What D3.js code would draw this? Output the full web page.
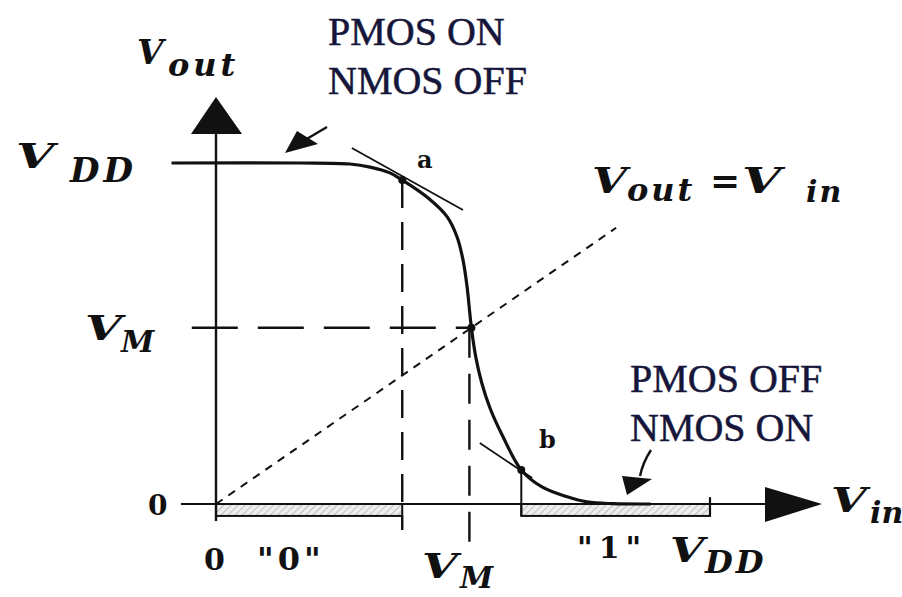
<!DOCTYPE html>
<html>
<head>
<meta charset="utf-8">
<script src="https://cdn.jsdelivr.net/npm/d3@7"></script>
<style>
  html, body { margin: 0; padding: 0; background: #fff; }
  svg { display: block; }
  .math { font-family: "DejaVu Serif", serif; font-style: italic; font-weight: bold; fill: #111; }
  .num { font-family: "DejaVu Serif", serif; font-weight: bold; fill: #111; }
  .note { font-family: "Liberation Serif", serif; fill: #16163a; stroke: #16163a; stroke-width: 0.5; }
</style>
</head>
<body>
<script>
// CMOS inverter voltage transfer characteristic (Vin and Vout normalised to VDD)
const vinCurve  = [-0.09, 0.17, 0.271, 0.312, 0.352, 0.377, 0.427, 0.468, 0.488, 0.500, 0.508, 0.517, 0.526, 0.538, 0.555, 0.580, 0.618, 0.660, 0.711, 0.751, 0.804, 0.88];
const voutCurve = [1.0,   1.0,  0.997, 0.988, 0.971, 0.950, 0.900, 0.842, 0.783, 0.716, 0.640, 0.517, 0.430, 0.355, 0.280, 0.200, 0.100, 0.050, 0.021, 0.006, 0.001, 0.0];

// Switching threshold VM and the unity-gain points a and b
const VM = 0.517;
const pointNames = ["a", "VM", "b"];
const pointVin   = [0.377, VM, 0.618];
const pointVout  = [0.950, VM, 0.100];

// Tangent segments through a and b: [vin0, vout0, vin1, vout1]
const tangentA = [0.275, 1.044, 0.500, 0.862];
const tangentB = [0.534, 0.179, 0.640, 0.076];

// Logic level ranges on the Vin axis
const lowRange  = [0, 0.377];
const highRange = [0.618, 1];

// Vout = Vin reference line
const unityRange = [0, 0.81];

const W = 902, H = 597;
const svg = d3.select("body").append("svg").attr("width", W).attr("height", H);

const x = d3.scaleLinear().domain([0, 1]).range([216, 710]);
const y = d3.scaleLinear().domain([0, 1]).range([504, 163]);

const ink = "#111";

// hatch pattern for the logic level bars
const defs = svg.append("defs");
const pat = defs.append("pattern").attr("id", "hatch").attr("patternUnits", "userSpaceOnUse")
  .attr("width", 5).attr("height", 5).attr("patternTransform", "rotate(45)");
pat.append("rect").attr("width", 5).attr("height", 5).attr("fill", "#eeeeee");
pat.append("line").attr("x1", 0).attr("y1", 0).attr("x2", 0).attr("y2", 5)
  .attr("stroke", "#b5b5b5").attr("stroke-width", 1.6);

const g = svg.append("g");

// logic "0" and "1" input ranges
[lowRange, highRange].forEach(r => {
  g.append("rect")
    .attr("x", x(r[0])).attr("y", y(0))
    .attr("width", x(r[1]) - x(r[0])).attr("height", y(-0.035) - y(0))
    .attr("fill", "url(#hatch)").attr("stroke", ink).attr("stroke-width", 2);
});
// tick at VDD on the Vin axis
g.append("line").attr("x1", x(1)).attr("x2", x(1)).attr("y1", y(0.02)).attr("y2", y(-0.035))
  .attr("stroke", ink).attr("stroke-width", 2.2);

// axes
g.append("line").attr("x1", x(-0.071)).attr("x2", 766).attr("y1", y(0)).attr("y2", y(0))
  .attr("stroke", ink).attr("stroke-width", 2.2);
g.append("line").attr("x1", x(0)).attr("x2", x(0)).attr("y1", y(-0.05)).attr("y2", 134)
  .attr("stroke", ink).attr("stroke-width", 2.4);
// axis arrow heads
g.append("path").attr("d", `M${x(0)},97 L${x(0) + 26},134 L${x(0) - 25},134 Z`).attr("fill", ink);
g.append("path").attr("d", `M822,${y(0)} L765,${y(0) - 17} L765,${y(0) + 18} Z`).attr("fill", ink);

// Vout = Vin dotted line
g.append("line")
  .attr("x1", x(unityRange[0])).attr("y1", y(unityRange[0]))
  .attr("x2", x(unityRange[1])).attr("y2", y(unityRange[1]))
  .attr("stroke", ink).attr("stroke-width", 2).attr("stroke-dasharray", "8,7");

// dashed guides to a and VM
g.append("line").attr("x1", x(pointVin[0])).attr("x2", x(pointVin[0]))
  .attr("y1", y(pointVout[0])).attr("y2", y(-0.076))
  .attr("stroke", ink).attr("stroke-width", 2.4).attr("stroke-dasharray", "28,14");
g.append("line").attr("x1", x(VM) - 2).attr("x2", x(VM) - 2)
  .attr("y1", y(VM)).attr("y2", y(-0.13))
  .attr("stroke", ink).attr("stroke-width", 2.4).attr("stroke-dasharray", "30,16");
g.append("line").attr("x1", x(-0.049)).attr("x2", x(VM))
  .attr("y1", y(VM)).attr("y2", y(VM))
  .attr("stroke", ink).attr("stroke-width", 2.4).attr("stroke-dasharray", "46,20");

// solid guide from b to the "1" range
g.append("line").attr("x1", x(pointVin[2])).attr("x2", x(pointVin[2]))
  .attr("y1", y(pointVout[2])).attr("y2", y(-0.035))
  .attr("stroke", ink).attr("stroke-width", 2);

// tangents
[tangentA, tangentB].forEach(t => {
  g.append("line").attr("x1", x(t[0])).attr("y1", y(t[1])).attr("x2", x(t[2])).attr("y2", y(t[3]))
    .attr("stroke", ink).attr("stroke-width", 1.8);
});

// transfer curve
const curveData = vinCurve.map((v, i) => [v, voutCurve[i]]);
g.append("path").datum(curveData)
  .attr("d", d3.line().x(d => x(d[0])).y(d => y(d[1])).curve(d3.curveCatmullRom.alpha(0.5)))
  .attr("fill", "none").attr("stroke", ink).attr("stroke-width", 3.2);

// marked points
g.selectAll("circle.pt").data(pointNames).join("circle").attr("class", "pt")
  .attr("cx", (d, i) => x(pointVin[i])).attr("cy", (d, i) => y(pointVout[i]))
  .attr("r", 4).attr("fill", ink);

// point labels
g.append("text").attr("class", "num").attr("x", 417).attr("y", 168).attr("font-size", 24).text("a");
g.append("text").attr("class", "num").attr("x", 539).attr("y", 448).attr("font-size", 24).text("b");

// math labels: each part placed on its own, optionally widened
function part(xp, yp, size, s, opts = {}) {
  const t = g.append("text").attr("class", "math")
    .attr("transform", `translate(${xp},${yp}) scale(${opts.sx || 1},1)`)
    .attr("font-size", size).attr("letter-spacing", opts.ls || 0).text(s);
  if (opts.upright) t.attr("font-style", "normal");
  return t;
}
// Vout (axis title)
part(137, 64, 34, "V"); part(168, 76, 32, "out", { ls: 4 });
// VDD on the Vout axis
part(16, 168, 34, "V", { sx: 1.45 }); part(70, 182, 34, "DD", { ls: 4 });
// VM on the Vout axis
part(85, 340, 34, "V", { sx: 1.4 }); part(121, 352, 30, "M");
// Vin (axis title)
part(831, 512, 34, "V", { sx: 1.35 }); part(870, 523, 30, "in");
// VM on the Vin axis
part(422, 578, 34, "V", { sx: 1.35 }); part(460, 588, 30, "M");
// VDD on the Vin axis
part(670, 562, 34, "V", { sx: 1.3 }); part(705, 573, 32, "DD", { ls: 3 });
// Vout = Vin
part(592, 193, 36, "V", { sx: 1.25 }); part(627, 201, 32, "out", { ls: 3 });
part(710, 193, 36, "=", { upright: true }); part(742, 193, 36, "V", { sx: 1.4 }); part(806, 202, 30, "in", { ls: 2 });

// numeric axis labels
g.append("text").attr("class", "num").attr("x", 148).attr("y", 515).attr("font-size", 28).text("0");
g.append("text").attr("class", "num").attr("x", 204).attr("y", 570).attr("font-size", 30).text("0");
g.append("text").attr("class", "num").attr("x", 257).attr("y", 570).attr("font-size", 32).attr("letter-spacing", 4).text("\"0\"");
g.append("text").attr("class", "num").attr("x", 577).attr("y", 558).attr("font-size", 30).attr("letter-spacing", 6).text("\"1\"");

// transistor state notes
const notes = [
  { x: 328, y: 45, lines: ["PMOS ON", "NMOS OFF"] },
  { x: 630, y: 392, lines: ["PMOS OFF", "NMOS ON"] }
];
notes.forEach(n => {
  n.lines.forEach((s, i) => {
    g.append("text").attr("class", "note").attr("x", n.x).attr("y", n.y + i * 49)
      .attr("font-size", 40).text(s);
  });
});

// pointer arrows from the notes to the curve
g.append("line").attr("x1", 327).attr("y1", 127).attr("x2", 305).attr("y2", 140)
  .attr("stroke", ink).attr("stroke-width", 2.4);
g.append("path").attr("d", "M285,153 L297,131 L318,144 Z").attr("fill", ink);
g.append("path").attr("d", "M651,450 Q643,462 640,476").attr("fill", "none")
  .attr("stroke", ink).attr("stroke-width", 2.4);
g.append("path").attr("d", "M627,495 L622,476 L652,479 Z").attr("fill", ink);
</script>
</body>
</html>
